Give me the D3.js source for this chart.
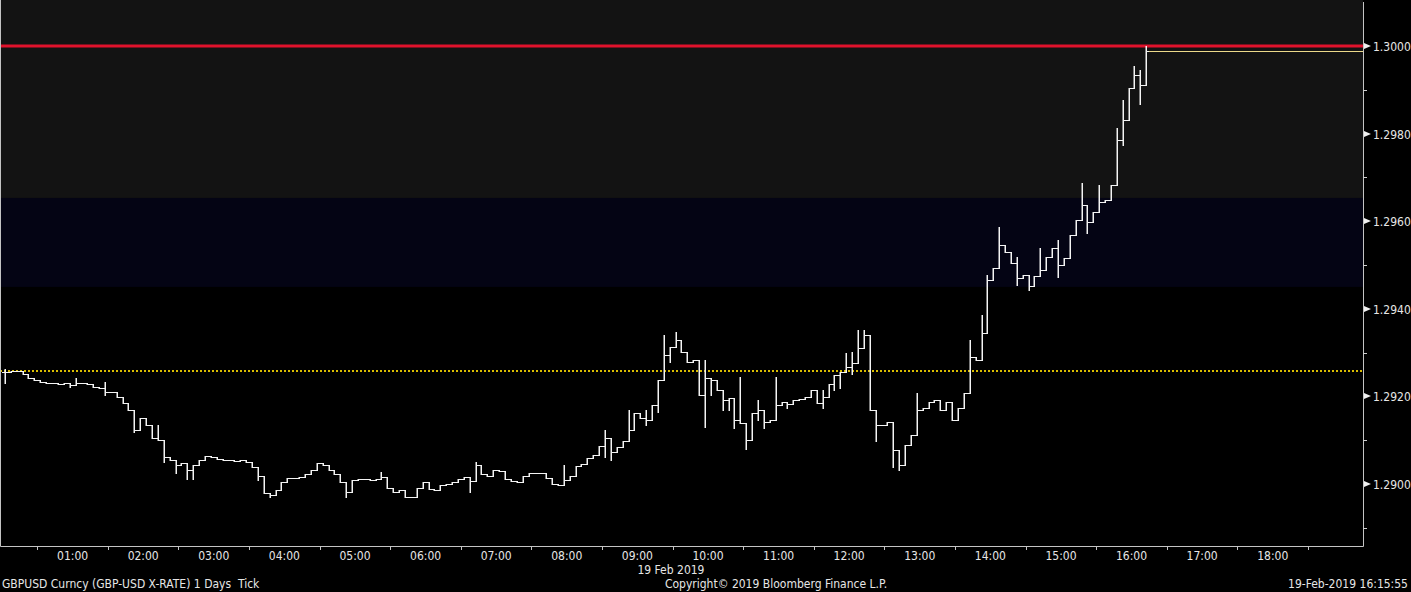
<!DOCTYPE html>
<html>
<head>
<meta charset="utf-8">
<script src="https://cdn.jsdelivr.net/npm/d3@7"></script>
<style>
  html, body { margin: 0; padding: 0; background: #000; overflow: hidden; }
  text { font-family: "DejaVu Sans Condensed", "Liberation Sans", sans-serif; font-size: 12px; fill: #e6e6e6; white-space: pre; }
</style>
</head>
<body>
<script>
// GBPUSD 5 minute bars, 19 Feb 2019 (00:00 - 16:15)
let closes = [
  1.29256, 1.29258, 1.29258, 1.29251, 1.29242, 1.29237, 1.29233, 1.29231, 1.29231, 1.29228,
  1.29231, 1.29226, 1.29231, 1.29231, 1.29228, 1.29221, 1.29219, 1.29210, 1.29210, 1.29199,
  1.29185, 1.29169, 1.29123, 1.29151, 1.29135, 1.29105, 1.29100, 1.29062, 1.29055, 1.29043,
  1.29048, 1.29032, 1.29043, 1.29055, 1.29064, 1.29062, 1.29057, 1.29055, 1.29055, 1.29053,
  1.29055, 1.29050, 1.29039, 1.29018, 1.28979, 1.28975, 1.28986, 1.29005, 1.29014, 1.29014,
  1.29016, 1.29023, 1.29032, 1.29048, 1.29043, 1.29032, 1.29023, 1.29005, 1.28982, 1.29009,
  1.29011, 1.29011, 1.29009, 1.29011, 1.29016, 1.28991, 1.28982, 1.28986, 1.28970, 1.28970,
  1.28991, 1.29005, 1.28989, 1.28986, 1.28998, 1.29000, 1.29005, 1.29011, 1.29016, 1.29007,
  1.29043, 1.29023, 1.29018, 1.29032, 1.29030, 1.29011, 1.29007, 1.29005, 1.29018, 1.29025,
  1.29025, 1.29025, 1.29014, 1.29000, 1.28998, 1.29009, 1.29018, 1.29041, 1.29046, 1.29059,
  1.29066, 1.29087, 1.29105, 1.29073, 1.29084, 1.29098, 1.29123, 1.29162, 1.29151, 1.29146,
  1.29180, 1.29237, 1.29295, 1.29313, 1.29329, 1.29301, 1.29279, 1.29283, 1.29203, 1.29242,
  1.29237, 1.29215, 1.29192, 1.29196, 1.29146, 1.29139, 1.29100, 1.29162, 1.29169, 1.29142,
  1.29146, 1.29180, 1.29187, 1.29183, 1.29192, 1.29194, 1.29199, 1.29215, 1.29185, 1.29199,
  1.29228, 1.29249, 1.29256, 1.29267, 1.29276, 1.29310, 1.29340, 1.29169, 1.29135, 1.29135,
  1.29142, 1.29078, 1.29043, 1.29089, 1.29112, 1.29169, 1.29174, 1.29187, 1.29192, 1.29169,
  1.29187, 1.29146, 1.29174, 1.29208, 1.29290, 1.29283, 1.29345, 1.29466, 1.29493, 1.29546,
  1.29530, 1.29505, 1.29470, 1.29477, 1.29452, 1.29475, 1.29489, 1.29518, 1.29539, 1.29500,
  1.29516, 1.29568, 1.29603, 1.29637, 1.29598, 1.29621, 1.29644, 1.29648, 1.29683, 1.29785,
  1.29831, 1.29904, 1.29934, 1.29911, 1.29989
];

// bars whose high / low go past the open-close range: [bar, high, low]
let wicks = [
  [0, 1.29263, 1.29231], [11, null, 1.29221], [12, 1.29242, null], [17, 1.29233, 1.29203],
  [22, null, 1.29119], [24, 1.29151, null], [26, 1.29135, null], [27, null, 1.29050],
  [29, null, 1.29025], [31, null, 1.29011], [32, null, 1.29011], [43, null, 1.29009],
  [45, null, 1.28970], [47, null, 1.28993], [58, null, 1.28970], [64, 1.29027, null],
  [79, null, 1.28982], [80, 1.29050, null], [95, 1.29043, null], [102, 1.29123, 1.29062],
  [103, null, 1.29055], [106, 1.29169, null], [109, 1.29169, 1.29135], [110, null, 1.29146],
  [111, null, 1.29164], [112, 1.29340, null], [113, null, 1.29279], [114, 1.29347, null],
  [119, 1.29283, 1.29130], [120, null, 1.29203], [122, null, 1.29169], [123, null, 1.29169],
  [124, null, 1.29128], [125, 1.29244, null], [126, null, 1.29080], [128, 1.29192, 1.29146],
  [129, null, 1.29128], [131, 1.29244, null], [133, null, 1.29174], [139, 1.29215, 1.29174],
  [141, null, 1.29215], [142, null, 1.29219], [143, 1.29299, null], [144, 1.29301, 1.29251],
  [145, 1.29352, null], [146, 1.29352, null], [148, null, 1.29098], [151, null, 1.29039],
  [152, null, 1.29032], [154, null, 1.29089], [155, 1.29208, null], [164, 1.29329, null],
  [166, 1.29386, null], [167, 1.29477, null], [169, 1.29587, null], [172, 1.29518, 1.29454],
  [174, null, 1.29443], [176, 1.29539, null], [179, 1.29557, 1.29472], [181, null, 1.29523],
  [183, 1.29687, null], [184, null, 1.29573], [186, 1.29683, null], [189, 1.29813, null],
  [190, 1.29877, 1.29774], [191, null, 1.29863], [192, 1.29954, null], [193, 1.29945, 1.29868],
  [194, 1.30000, null]
];

let barMinutes = 5;
let prevClose = 1.29259;
let alertLevel = 1.3000;
let bandUpper = [1.29653, 1.3012];
let bandMiddle = [1.29450, 1.29653];
let yTicks = [1.2900, 1.2920, 1.2940, 1.2960, 1.2980, 1.3000];
let yMinorTicks = [1.2890, 1.2910, 1.2930, 1.2950, 1.2970, 1.2990];
let hourLabels = ["01:00", "02:00", "03:00", "04:00", "05:00", "06:00", "07:00", "08:00", "09:00",
  "10:00", "11:00", "12:00", "13:00", "14:00", "15:00", "16:00", "17:00", "18:00"];

let width = 1411, height = 592,
    plotLeft = 0, plotRight = 1363, plotTop = 0, plotBottom = 546;

let svg = d3.select("body").append("svg").attr("width", width).attr("height", height);

svg.append("rect").attr("width", width).attr("height", height).attr("fill", "#000");

// minutes since midnight -> x
let x = d3.scaleLinear().domain([0, 1156.7]).range([2, plotRight]);
let y = d3.scaleLinear().domain([1.2900, 1.3000]).range([484, 46]);

let clampY = v => Math.max(plotTop, Math.min(plotBottom, y(v)));

// background bands
svg.append("rect")
  .attr("x", plotLeft).attr("width", plotRight - plotLeft)
  .attr("y", clampY(bandUpper[1])).attr("height", clampY(bandUpper[0]) - clampY(bandUpper[1]))
  .attr("fill", "#131313");
svg.append("rect")
  .attr("x", plotLeft).attr("width", plotRight - plotLeft)
  .attr("y", y(bandMiddle[1])).attr("height", y(bandMiddle[0]) - y(bandMiddle[1]))
  .attr("fill", "#040414");

// previous close, dotted
svg.append("line")
  .attr("x1", plotLeft).attr("x2", plotRight)
  .attr("y1", Math.round(y(prevClose))).attr("y2", Math.round(y(prevClose)))
  .attr("stroke", "#d9bc00").attr("stroke-width", 2).attr("stroke-dasharray", "2,2");

// alert level
svg.append("line")
  .attr("x1", plotLeft).attr("x2", plotRight)
  .attr("y1", y(alertLevel)).attr("y2", y(alertLevel))
  .attr("stroke", "#e0122c").attr("stroke-width", 3);

// bars (open = previous close)
let bars = closes.map(function(c, i) {
  let o = i === 0 ? c : closes[i - 1];
  return {i: i, open: o, close: c, high: Math.max(o, c), low: Math.min(o, c)};
});
wicks.forEach(function(w) {
  let b = bars[w[0]];
  if (w[1] !== null) b.high = Math.max(b.high, w[1]);
  if (w[2] !== null) b.low = Math.min(b.low, w[2]);
});

let px = v => Math.round(v) + 0.5;

let g = svg.append("g").attr("stroke", "#f4f4f4").attr("fill", "none");
g.selectAll(".hl").data(bars).enter().append("line")
  .attr("stroke-width", 1.5)
  .attr("x1", d => Math.round(x(d.i * barMinutes + barMinutes / 2)) + 0.25)
  .attr("x2", d => Math.round(x(d.i * barMinutes + barMinutes / 2)) + 0.25)
  .attr("y1", d => Math.round(y(d.high)))
  .attr("y2", d => Math.round(y(d.low)) + 1);
g.selectAll(".op").data(bars).enter().append("line")
  .attr("stroke-width", 1)
  .attr("x1", d => Math.round(x(d.i * barMinutes)))
  .attr("x2", d => Math.round(x(d.i * barMinutes + barMinutes / 2)))
  .attr("y1", d => px(y(d.open)))
  .attr("y2", d => px(y(d.open)));
g.selectAll(".cl").data(bars).enter().append("line")
  .attr("stroke-width", 1)
  .attr("x1", d => Math.round(x(d.i * barMinutes + barMinutes / 2)))
  .attr("x2", d => Math.round(x(d.i * barMinutes + barMinutes)))
  .attr("y1", d => px(y(d.close)))
  .attr("y2", d => px(y(d.close)));

// last price line
let last = bars[bars.length - 1];
svg.append("line")
  .attr("x1", Math.round(x((last.i + 1) * barMinutes))).attr("x2", plotRight)
  .attr("y1", px(y(last.close))).attr("y2", px(y(last.close)))
  .attr("stroke", "#ecd98a").attr("stroke-width", 1);

// frame
svg.append("path")
  .attr("d", "M0.5,0V" + (plotBottom + 0.5) + "H" + (plotRight + 0.5) + "V2")
  .attr("fill", "none").attr("stroke", "#c4c4c4").attr("stroke-width", 1);

// right axis
let yAxis = svg.append("g");
yTicks.forEach(function(t) {
  let yy = Math.round(y(t));
  yAxis.append("path")
    .attr("d", "M" + (plotRight + 1) + "," + (yy - 3) + "L" + (plotRight + 8) + "," + yy + "L" + (plotRight + 1) + "," + (yy + 3) + "Z")
    .attr("fill", "#f0f0f0");
  yAxis.append("text")
    .attr("x", plotRight + 10).attr("y", yy + 4.5)
    .text(d3.format(".4f")(t));
});
yMinorTicks.forEach(function(t) {
  let yy = Math.round(y(t)) + 0.5;
  yAxis.append("line")
    .attr("x1", plotRight).attr("x2", plotRight + 4)
    .attr("y1", yy).attr("y2", yy)
    .attr("stroke", "#d0d0d0");
});

// bottom axis: ticks on the half hour, labels on the hour
let xAxis = svg.append("g");
d3.range(30, 1156, 60).forEach(function(m) {
  let xx = px(x(m));
  xAxis.append("line")
    .attr("x1", xx).attr("x2", xx)
    .attr("y1", plotBottom).attr("y2", plotBottom + 4)
    .attr("stroke", "#c4c4c4");
});
hourLabels.forEach(function(h, k) {
  xAxis.append("text")
    .attr("x", x((k + 1) * 60)).attr("y", 560)
    .attr("text-anchor", "middle")
    .text(h);
});
xAxis.append("text").attr("x", x(9 * 60)).attr("y", 574).text("19 Feb 2019");

// footer
svg.append("text").attr("x", 2).attr("y", 588).text("GBPUSD Curncy (GBP-USD X-RATE) 1 Days  Tick");
svg.append("text").attr("x", 776).attr("y", 588).attr("text-anchor", "middle").text("Copyright\u00a9 2019 Bloomberg Finance L.P.");
svg.append("text").attr("x", 1408).attr("y", 588).attr("text-anchor", "end").text("19-Feb-2019 16:15:55");
</script>
</body>
</html>
